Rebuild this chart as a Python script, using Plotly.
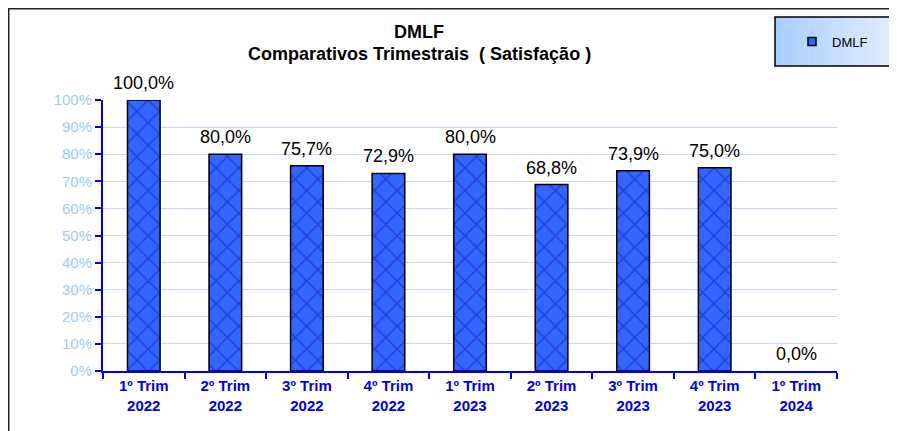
import plotly.graph_objects as go

categories = ["1º Trim<br>2022", "2º Trim<br>2022", "3º Trim<br>2022", "4º Trim<br>2022",
              "1º Trim<br>2023", "2º Trim<br>2023", "3º Trim<br>2023", "4º Trim<br>2023",
              "1º Trim<br>2024"]
values = [1.000, 0.800, 0.757, 0.729, 0.800, 0.688, 0.739, 0.750, 0.000]
labels = ["100,0%", "80,0%", "75,7%", "72,9%", "80,0%", "68,8%", "73,9%", "75,0%", "0,0%"]
yticks = [0, 0.1, 0.2, 0.3, 0.4, 0.5, 0.6, 0.7, 0.8, 0.9, 1.0]
yticktext = ["0%", "10%", "20%", "30%", "40%", "50%", "60%", "70%", "80%", "90%", "100%"]

OFF = 8  # page body margin
W, H = 897 - OFF, 431 - OFF
L, T = 103 - OFF, 100 - OFF
R, B = W - (837 - OFF), H - (371 - OFF)
pw, ph = W - L - R, H - T - B
FONT = "Liberation Sans, Arial"


def px_x(x):
    return (x - OFF - L) / pw


def px_y(y):
    return 1 - (y - OFF - T) / ph


fig = go.Figure()
fig.add_trace(go.Bar(
    x=categories, y=values, name="DMLF", showlegend=False,
    marker=dict(color="#3366ff",
                line=dict(color="black", width=[1.5 if v > 0 else 0 for v in values]),
                pattern=dict(shape="x", fgcolor="#0a14d0", bgcolor="#3366ff", size=16, solidity=0.18)),
))
fig.add_trace(go.Scatter(
    x=[None], y=[None], mode="markers", name="DMLF",
    marker=dict(symbol="square", size=8, color="#3366ff", line=dict(color="black", width=1.5)),
))

annotations = []
for c, v, t in zip(categories, values, labels):
    annotations.append(dict(x=c, y=v, text=t, showarrow=False, yanchor="bottom", yshift=5,
                            font=dict(family=FONT, size=18, color="black")))
annotations.append(dict(xref="paper", yref="paper", x=px_x(419), y=px_y(32), yanchor="middle",
                        text="<b>DMLF</b>",
                        showarrow=False, font=dict(family=FONT, size=18, color="black")))
annotations.append(dict(xref="paper", yref="paper", x=px_x(419), y=px_y(54), yanchor="middle",
                        text="<b>Comparativos Trimestrais  ( Satisfação )</b>",
                        showarrow=False, font=dict(family=FONT, size=18, color="black")))

shapes = [
    dict(type="rect", xref="paper", yref="paper", x0=px_x(8.75), y0=px_y(8.75), x1=px_x(905), y1=px_y(440),
         line=dict(color="#222222", width=1.5), fillcolor="rgba(0,0,0,0)", layer="below"),
]
# gradient legend box
x_left, x_right = 775, 900
n = 30
c0 = (168, 206, 255)
c1 = (228, 238, 252)
for i in range(n):
    f = i / (n - 1)
    col = tuple(round(a + (b - a) * f) for a, b in zip(c0, c1))
    xa = x_left + (x_right - x_left) * i / n
    xb = x_left + (x_right - x_left) * (i + 1) / n + 0.5
    shapes.append(dict(type="rect", xref="paper", yref="paper", x0=px_x(xa), y0=px_y(17), x1=px_x(xb),
                       y1=px_y(66), line=dict(width=0), fillcolor="rgb(%d,%d,%d)" % col, layer="below"))
shapes.append(dict(type="rect", xref="paper", yref="paper", x0=px_x(775), y0=px_y(17), x1=px_x(905),
                   y1=px_y(66), line=dict(color="black", width=1.5), fillcolor="rgba(0,0,0,0)", layer="below"))

fig.update_layout(
    width=W, height=H, margin=dict(l=L, r=R, t=T, b=B),
    paper_bgcolor="white", plot_bgcolor="white",
    bargap=0.6,
    showlegend=True,
    legend=dict(x=px_x(792), y=px_y(41.5), xanchor="left", yanchor="middle",
                bgcolor="rgba(0,0,0,0)", font=dict(family=FONT, size=13, color="black"),
                itemwidth=30),
    annotations=annotations, shapes=shapes,
    xaxis=dict(showline=True, linecolor="#0000ee", linewidth=2, ticks="outside", tickson="boundaries",
               tickcolor="#0000ee", ticklen=6, tickwidth=1.5,
               tickfont=dict(family=FONT, size=15, color="#0000ee", weight="bold")),
    yaxis=dict(range=[0, 1], tickvals=yticks, ticktext=yticktext, showline=True, linecolor="#0000ee",
               linewidth=2, ticks="outside", tickcolor="#0000ee", ticklen=6, tickwidth=1.5,
               gridcolor="#c8d6ee", gridwidth=1, zeroline=False,
               tickfont=dict(family=FONT, size=15, color="#99ccff")),
)
fig.write_html("out.html")
